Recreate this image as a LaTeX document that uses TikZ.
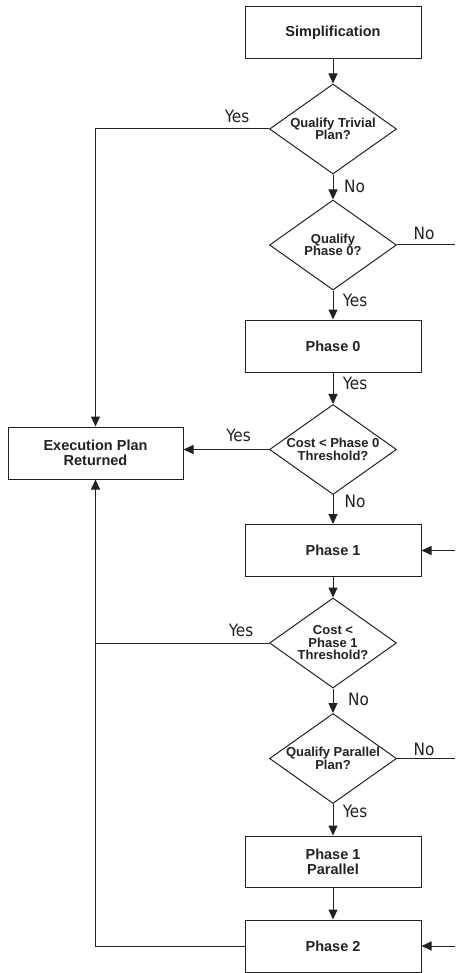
\documentclass[tikz,border=0pt]{standalone}
\usepackage{fontspec}
\setmainfont{Liberation Sans}
\newfontfamily\lblfont{DejaVu Sans Condensed}
\usetikzlibrary{shapes.geometric,arrows.meta}
\definecolor{ink}{HTML}{222222}
\tikzset{
  line/.style={draw=ink, line width=1pt},
  arr/.style={line, -{Triangle[length=10pt,width=9pt]}},
  procbox/.style={draw=ink, line width=1pt, fill=white, minimum width=176pt, minimum height=52pt, inner sep=0pt, align=center, font=\fontsize{14.5}{15}\selectfont\bfseries, text=ink},
  decide/.style={draw=ink, line width=1pt, fill=white, shape=diamond, minimum width=127pt, minimum height=90pt, inner sep=-12pt, align=center, font=\fontsize{13}{12.5}\selectfont\bfseries, text=ink},
  lbl/.style={inner sep=0pt, font=\lblfont\fontsize{17}{17}\selectfont, text=ink}
}
\begin{document}
\begin{tikzpicture}[x=1pt,y=-1pt]
\useasboundingbox (0,0) rectangle (455,973);
\fill[white] (0,0) rectangle (455,973);
% nodes
\node[procbox] (simp) at (333,33) {Simplification};
\node[decide] (d1) at (333,129) {Qualify Trivial\\Plan?};
\node[decide] (d2) at (333,245) {Qualify\\Phase 0?};
\node[procbox] (p0) at (333,346) {Phase 0};
\node[decide] (d3) at (333,449.5) {Cost < Phase 0\\Threshold?};
\node[procbox, minimum width=175pt] (exec) at (95.5,453) {Execution Plan\\Returned};
\node[procbox] (p1) at (333,550.5) {Phase 1};
\node[decide] (d4) at (333,643) {Cost <\\Phase 1\\Threshold?};
\node[decide] (d5) at (333,758.5) {Qualify Parallel\\Plan?};
\node[procbox, minimum height=51pt] (p1p) at (333,861.5) {Phase 1\\Parallel};
\node[procbox] (p2) at (333,946) {Phase 2};
% edge coordinates
\coordinate (r1) at (455,245);
\coordinate (r2) at (455,550.5);
\coordinate (r3) at (455,758.5);
\coordinate (r4) at (455,946);
\coordinate (j1) at (exec.north |- d1.west);
\coordinate (j2) at (exec.south |- d4.west);
\coordinate (j3) at (exec.south |- p2.west);
% connectors
\draw[arr] (simp) -- (d1);
\draw[arr] (d1.west) -- (j1) -- (exec.north);
\draw[arr] (d1) -- (d2);
\draw[line] (d2.east) -- (r1);
\draw[arr] (d2) -- (p0);
\draw[arr] (p0) -- (d3);
\draw[arr] (d3.west) -- (d3.west -| exec.east);
\draw[arr] (d3) -- (p1);
\draw[arr] (r2) -- (p1.east);
\draw[arr] (p1) -- (d4);
\draw[line] (d4.west) -- (j2);
\draw[arr] (d4) -- (d5);
\draw[line] (d5.east) -- (r3);
\draw[arr] (d5) -- (p1p);
\draw[arr] (p1p) -- (p2);
\draw[arr] (p2.west) -- (j3) -- (exec.south);
\draw[arr] (r4) -- (p2.east);
% labels
\node[lbl] (l1) at (237,116.5) {Yes};
\node[lbl] (l2) at (354.5,186) {No};
\node[lbl] (l3) at (424,233) {No};
\node[lbl] (l4) at (355,300) {Yes};
\node[lbl] (l5) at (355,383) {Yes};
\node[lbl] (l6) at (238.5,435.5) {Yes};
\node[lbl] (l7) at (355,501) {No};
\node[lbl] (l8) at (241,630.5) {Yes};
\node[lbl] (l9) at (358.5,699) {No};
\node[lbl] (l10) at (424,749) {No};
\node[lbl] (l11) at (355,811.5) {Yes};
\end{tikzpicture}
\end{document}
